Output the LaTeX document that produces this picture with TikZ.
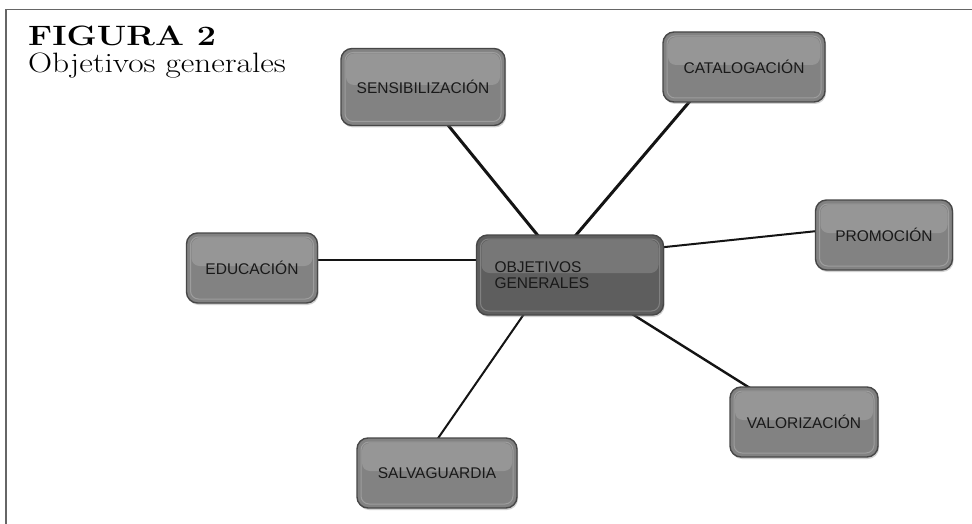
\documentclass[tikz,border=0pt]{standalone}
\usepackage{fontspec}
\newfontfamily\boxfont{Liberation Sans}
\usetikzlibrary{calc,backgrounds,shadows}

\tikzset{
  topic/.style={
    draw=black!72, line width=1.4pt, fill=black!49,
    rounded corners=11pt, inner sep=0pt, minimum height=70pt,
    font=\boxfont\fontsize{15.5}{17}\selectfont, text=black!90,
    drop shadow={shadow xshift=1pt, shadow yshift=-2pt, opacity=.35},
    path picture={
      \fill[white, opacity=.16, rounded corners=8pt]
        ($(path picture bounding box.north west)+(5,5)$) rectangle
        ($(path picture bounding box.east)+(-5,-2)$);
      \draw[white, opacity=.22, line width=1pt, rounded corners=8pt]
        ($(path picture bounding box.north west)+(4,4)$) rectangle
        ($(path picture bounding box.south east)+(-4,-4)$);
    }},
  hub/.style={topic, fill=black!63, minimum height=80pt,
    text width=151pt, align=left, text=black!90},
  link/.style={draw=black!92, line width=2pt},
  heavylink/.style={link, line width=3pt},
  frame/.style={draw=black!60, line width=1.6pt},
  caption/.style={anchor=base west, inner sep=0pt},
}

\begin{document}
\begin{tikzpicture}[x=1pt, y=-1pt]
  \useasboundingbox (0,0) rectangle (972,524);

  % frame and caption
  \draw[frame] (6,524) -- (6,9.5) -- (972,9.5);
  \node[caption, font=\fontsize{28}{31}\selectfont\bfseries]
    (figno) at (28,46) {\scalebox{1.22}[1]{FIGURA 2}};
  \node[caption, font=\fontsize{28}{31}\selectfont]
    (figtitle) at (28,73) {\scalebox{1.19}[1]{Objetivos generales}};

  % central topic and the six objectives
  \node[hub, minimum width=187pt] (obj) at (570,275) {OBJETIVOS\\[-1pt]GENERALES};
  \node[topic, minimum width=164pt, minimum height=77pt] (sens) at (423,87) {SENSIBILIZACIÓN};
  \node[topic, minimum width=162pt] (cat)  at (744,67)  {CATALOGACIÓN};
  \node[topic, minimum width=131pt] (edu)  at (252,268) {EDUCACIÓN};
  \node[topic, minimum width=137pt] (prom) at (884,235) {PROMOCIÓN};
  \node[topic, minimum width=148pt] (val)  at (804,422) {VALORIZACIÓN};
  \node[topic, minimum width=160pt] (salv) at (437,473) {SALVAGUARDIA};

  % connectors, kept behind the boxes
  \begin{pgfonlayer}{background}
    \fill[white] (0,0) rectangle (972,524);
    \draw[heavylink] (obj.center) -- ($(sens.center)+(-6,0)$);
    \draw[heavylink] ($(obj.center)+(-28,0)$) -- ($(cat.center)+(-25,0)$);
    \draw[link] ($(obj.center)+(0,-15)$) -- ($(edu.center)+(0,-8)$);
    \draw[link] ($(obj.center)+(0,-18)$) -- ($(prom.center)+(0,-11)$);
    \draw[link, line width=2.4pt] (obj.center) -- (val.center);
    \draw[link] ($(obj.center)+(-19,0)$) -- ($(salv.center)+(-23,0)$);
  \end{pgfonlayer}
\end{tikzpicture}
\end{document}
